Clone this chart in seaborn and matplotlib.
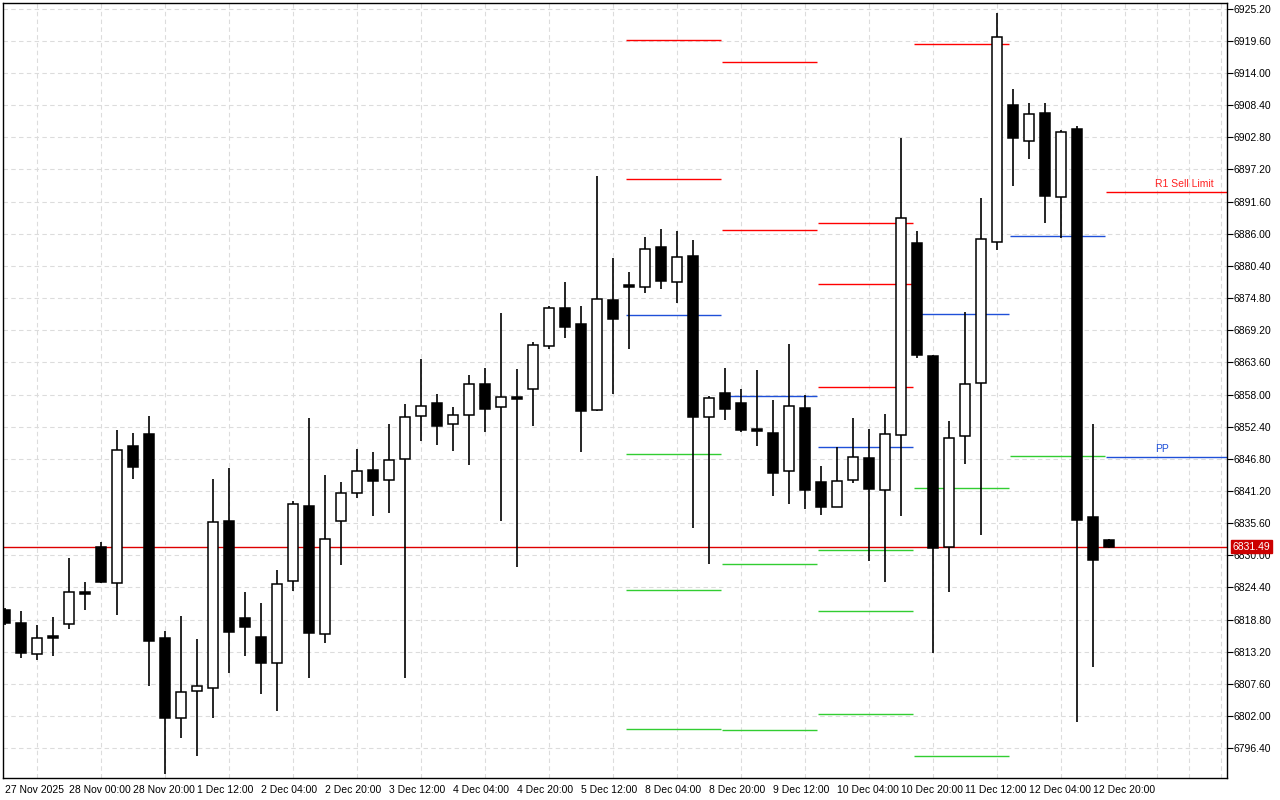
import matplotlib
matplotlib.use("Agg")
import matplotlib.pyplot as plt
import seaborn as sns
import numpy as np

sns.set_style("white")
plt.rcParams['font.family'] = ['Liberation Sans', 'DejaVu Sans']

opens = [6820.5,6818.2,6812.8,6815.7,6818.0,6823.4,6831.5,6825.2,6849.1,6851.2,
         6815.6,6801.7,6806.4,6806.9,6836.0,6819.1,6815.8,6811.2,6825.5,6838.6,
         6816.3,6836.0,6840.9,6844.9,6843.1,6846.8,6854.3,6856.6,6852.9,6854.5,
         6859.9,6855.9,6857.4,6859.0,6866.5,6873.1,6870.2,6855.3,6874.5,6877.0,
         6876.8,6883.7,6877.6,6882.2,6854.1,6858.3,6856.6,6851.8,6851.3,6844.7,
         6855.7,6842.8,6838.4,6843.1,6847.0,6841.4,6851.0,6884.4,6864.7,6831.5,
         6850.8,6860.0,6884.6,6908.5,6902.2,6907.1,6892.4,6904.3,6836.7,6832.7]
highs = [6820.8,6820.3,6817.9,6819.3,6829.5,6825.4,6832.3,6851.9,6851.3,6854.3,
         6816.8,6819.4,6815.4,6843.3,6845.2,6823.6,6821.7,6827.4,6839.5,6853.9,
         6844.0,6842.8,6848.5,6848.0,6852.9,6856.4,6864.2,6858.1,6855.9,6861.4,
         6862.7,6872.2,6862.5,6867.2,6873.5,6877.6,6873.5,6896.1,6881.7,6879.4,
         6885.5,6886.9,6886.5,6885.0,6857.8,6862.7,6859.0,6862.3,6857.1,6866.8,
         6858.0,6845.6,6848.9,6853.9,6852.0,6854.6,6902.6,6886.5,6864.9,6853.4,
         6872.4,6892.3,6924.4,6911.3,6908.7,6908.8,6904.0,6904.8,6852.9,6832.9]
lows = [6817.9,6812.1,6811.8,6812.5,6817.2,6820.5,6825.2,6819.6,6843.3,6807.2,
        6791.9,6798.2,6795.0,6801.7,6809.5,6812.5,6805.8,6802.9,6823.8,6808.6,
        6814.7,6828.3,6840.0,6836.9,6837.4,6808.6,6849.9,6849.2,6848.2,6845.7,
        6851.5,6836.0,6828.0,6852.5,6866.0,6867.9,6848.0,6855.2,6858.1,6866.0,
        6875.6,6876.3,6874.0,6834.8,6828.5,6853.6,6851.5,6849.1,6840.3,6839.0,
        6838.1,6837.0,6838.4,6842.6,6829.0,6825.4,6836.9,6864.4,6813.0,6823.6,
        6845.9,6833.5,6883.2,6894.4,6899.1,6887.9,6885.3,6801.0,6810.5,6831.3]
closes = [6818.2,6813.0,6815.6,6815.5,6823.6,6823.2,6825.4,6848.4,6845.4,6815.1,
          6801.7,6806.2,6807.2,6835.8,6816.6,6817.5,6811.2,6825.0,6838.9,6816.5,
          6832.9,6840.9,6844.7,6843.0,6846.6,6854.1,6856.0,6852.5,6854.5,6859.9,
          6855.5,6857.6,6857.2,6866.7,6873.1,6869.8,6855.2,6874.7,6871.2,6876.8,
          6883.4,6877.8,6882.0,6854.1,6857.4,6855.5,6851.9,6851.6,6844.4,6856.0,
          6841.4,6838.4,6842.9,6847.1,6841.6,6851.2,6888.8,6864.9,6831.3,6850.5,
          6859.9,6885.1,6920.2,6902.6,6906.9,6892.6,6903.8,6836.2,6829.2,6831.5]

x_labels = ["27 Nov 2025","28 Nov 00:00","28 Nov 20:00","1 Dec 12:00","2 Dec 04:00",
            "2 Dec 20:00","3 Dec 12:00","4 Dec 04:00","4 Dec 20:00","5 Dec 12:00",
            "8 Dec 04:00","8 Dec 20:00","9 Dec 12:00","10 Dec 04:00","10 Dec 20:00",
            "11 Dec 12:00","12 Dec 04:00","12 Dec 20:00"]
y_ticks = [6796.40,6802.00,6807.60,6813.20,6818.80,6824.40,6830.00,6835.60,6841.20,
           6846.80,6852.40,6858.00,6863.60,6869.20,6874.80,6880.40,6886.00,6891.60,
           6897.20,6902.80,6908.40,6914.00,6919.60,6925.20]

# pivot segments: (start candle, end candle, levels, colours)
seg_starts = [38.8, 44.8, 50.8, 56.8, 62.8, 68.8]
seg_ends = [44.75, 50.75, 56.75, 62.75, 68.75, 76.4]
seg_levels = [[6919.8,6895.6,6871.9,6847.7,6824.0,6799.7],
              [6916.0,6886.7,6857.8,6828.5,6799.6],
              [6887.9,6877.3,6859.3,6848.9,6830.9,6820.3,6802.3],
              [6919.1,6872.1,6841.7,6795.0],
              [6885.7,6847.3],
              [6893.3,6847.1]]
seg_colors = [["r","r","b","g","g","g"],
              ["r","r","b","g","g"],
              ["r","r","r","b","g","g","g"],
              ["r","b","g","g"],
              ["b","g"],
              ["r","b"]]
current_price = 6831.49

cmap = {"r": "#ff0000", "b": "#1f50d8", "g": "#32cd32"}

fig = plt.figure(figsize=(12.8, 8.0), dpi=100)
ax = fig.add_axes([3/1280, 22/800, 1224/1280, 775/800])
ax.set_facecolor("white")

for s, e, lv, cl in zip(seg_starts, seg_ends, seg_levels, seg_colors):
    for l, c in zip(lv, cl):
        ax.hlines(l, s, e, colors=cmap[c], lw=1.0, zorder=2)

ax.axhline(current_price, color="#dd0000", lw=1.0, zorder=2)

w = 0.6
for i, (o, h, l, c) in enumerate(zip(opens, highs, lows, closes)):
    ax.vlines(i, l, h, color="black", lw=1.2, zorder=3)
    lo, hi = min(o, c), max(o, c)
    hgt = max(hi - lo, 0.35)
    if c >= o:
        ax.bar(i, hgt, bottom=lo, width=w, color="white", edgecolor="black", lw=1.1, zorder=4)
    else:
        ax.bar(i, hgt, bottom=lo, width=w, color="black", edgecolor="black", lw=1.1, zorder=4)

ax.set_xlim(-0.125, 76.375)
ax.set_ylim(6791.2, 6926.2)

ax.yaxis.tick_right()
ax.set_yticks(y_ticks)
ax.set_yticklabels([f"{v:.2f}" for v in y_ticks], fontsize=7.5)
xt = list(range(0, 70, 4))
ax.set_xticks(xt)
ax.set_xticklabels(x_labels, fontsize=7.5, ha="left")
ax.tick_params(axis="both", direction="out", length=4, width=0.8, pad=1, colors="black")
ax.set_xticks(list(range(2, 77, 2)), minor=True)
ax.grid(True, which="major", axis="y", color="#dcdcdc", ls=(0, (4, 3)), lw=0.8)
ax.grid(True, which="minor", axis="x", color="#dcdcdc", ls=(0, (4, 3)), lw=0.8)
ax.tick_params(axis="x", which="minor", length=0)
for sp in ax.spines.values():
    sp.set_color("black")
    sp.set_linewidth(1.0)

ax.text(71.9, 6893.8, "R1 Sell Limit", color="#ff2020", fontsize=7.5, ha="left", va="bottom")
ax.text(71.9, 6847.6, "PP", color="#1f50d8", fontsize=7.5, ha="left", va="bottom")

ax.annotate(f"{current_price:.2f}", xy=(1.0, current_price), xycoords=("axes fraction", "data"),
            xytext=(4, 0), textcoords="offset points", fontsize=7.5, color="white",
            va="center", ha="left",
            bbox=dict(boxstyle="square,pad=0.15", fc="#cc0000", ec="#cc0000"))

fig.savefig("out.png", dpi=100)
